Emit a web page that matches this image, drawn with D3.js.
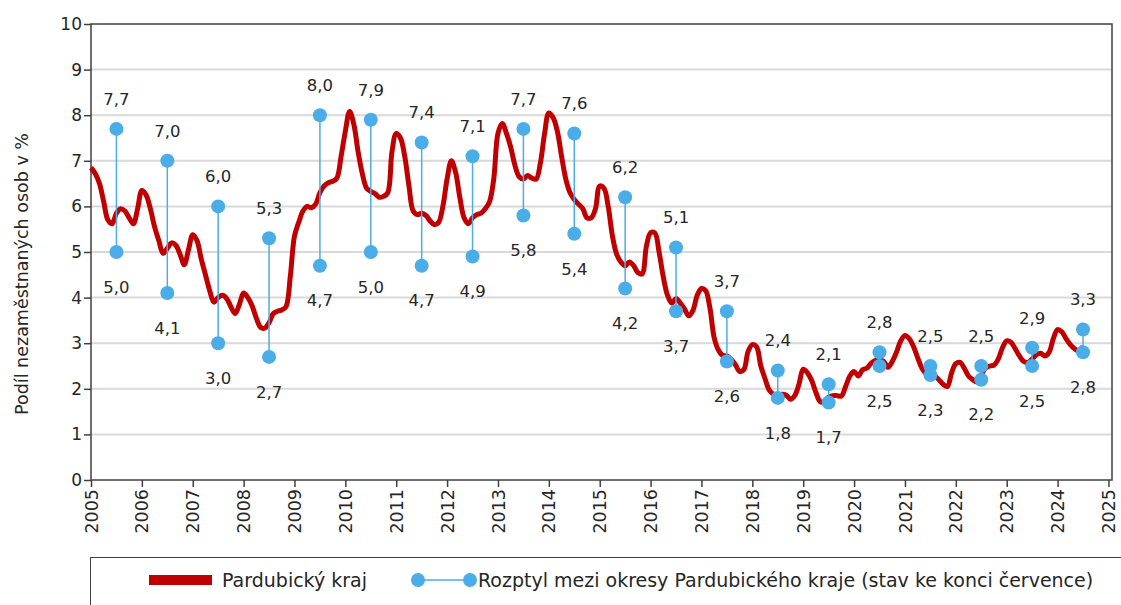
<!DOCTYPE html>
<html>
<head>
<meta charset="utf-8">
<script src="https://cdn.jsdelivr.net/npm/d3@7"></script>
<style>
  body { margin: 0; background: #fff; }
  text { font-family: "DejaVu Sans", sans-serif; fill: #262626; }
</style>
</head>
<body>
<div id="chart"></div>
<script>

// monthly share of unemployed, Pardubicky kraj, Jan 2005 - Jul 2024
const firstYear = 2005;
const pardubice = [
  6.85, 6.72, 6.5, 6.1, 5.7, 5.62, 5.85, 5.95, 5.9, 5.75, 5.62, 5.95,   // 2005
  6.35, 6.25, 5.95, 5.55, 5.25, 4.97, 5.08, 5.2, 5.15, 4.95, 4.72, 5.05, // 2006
  5.38, 5.25, 4.85, 4.5, 4.15, 3.9, 4.0, 4.05, 3.98, 3.8, 3.65, 3.85,    // 2007
  4.1, 4.0, 3.82, 3.55, 3.35, 3.33, 3.45, 3.65, 3.7, 3.73, 3.8, 4.45,    // 2008
  5.35, 5.65, 5.9, 6.0, 5.97, 6.05, 6.3, 6.45, 6.52, 6.55, 6.62, 7.1,    // 2009
  7.65, 8.08, 7.8, 7.2, 6.72, 6.4, 6.33, 6.28, 6.2, 6.22, 6.3, 7.2,      // 2010
  7.6, 7.5, 7.1, 6.45, 5.9, 5.82, 5.85, 5.8, 5.68, 5.6, 5.65, 6.0,       // 2011
  6.6, 7.0, 6.75, 6.2, 5.75, 5.62, 5.75, 5.82, 5.85, 5.95, 6.1, 6.6,     // 2012
  7.6, 7.82, 7.6, 7.3, 6.9, 6.65, 6.6, 6.68, 6.62, 6.6, 6.95, 7.6,      // 2013
  8.05, 7.95, 7.65, 7.1, 6.6, 6.3, 6.15, 6.05, 5.95, 5.75, 5.75, 5.95,   // 2014
  6.45, 6.4, 6.0, 5.35, 4.95, 4.78, 4.7, 4.78, 4.7, 4.55, 4.52, 5.12,    // 2015
  5.42, 5.42, 5.0, 4.45, 4.05, 3.88, 3.98, 3.88, 3.75, 3.6, 3.72, 4.05,  // 2016
  4.2, 4.15, 3.77, 3.12, 2.85, 2.73, 2.72, 2.65, 2.53, 2.38, 2.42, 2.82, // 2017
  2.97, 2.92, 2.5, 2.22, 1.97, 1.88, 1.85, 1.88, 1.86, 1.77, 1.85, 2.1,  // 2018
  2.43, 2.35, 2.18, 1.92, 1.72, 1.72, 1.82, 1.85, 1.85, 1.84, 2.05, 2.28, // 2019
  2.38, 2.28, 2.42, 2.45, 2.56, 2.62, 2.64, 2.6, 2.47, 2.6, 2.8, 3.05,   // 2020
  3.17, 3.1, 2.93, 2.68, 2.45, 2.33, 2.3, 2.28, 2.2, 2.1, 2.05, 2.35,    // 2021
  2.55, 2.58, 2.45, 2.28, 2.2, 2.15, 2.3, 2.45, 2.5, 2.52, 2.65, 2.9,    // 2022
  3.05, 3.02, 2.88, 2.72, 2.6, 2.58, 2.65, 2.75, 2.78, 2.72, 2.8, 3.1,   // 2023
  3.3, 3.25, 3.1, 2.97, 2.88, 2.83, 2.93                                 // 2024
];

// spread between districts, end of July
const rangeYears = [2005, 2006, 2007, 2008, 2009, 2010, 2011, 2012, 2013, 2014,
                    2015, 2016, 2017, 2018, 2019, 2020, 2021, 2022, 2023, 2024];
const rangeMax = [7.7, 7.0, 6.0, 5.3, 8.0, 7.9, 7.4, 7.1, 7.7, 7.6,
                  6.2, 5.1, 3.7, 2.4, 2.1, 2.8, 2.5, 2.5, 2.9, 3.3];
const rangeMin = [5.0, 4.1, 3.0, 2.7, 4.7, 5.0, 4.7, 4.9, 5.8, 5.4,
                  4.2, 3.7, 2.6, 1.8, 1.7, 2.5, 2.3, 2.2, 2.5, 2.8];

const xTicks = [2005, 2006, 2007, 2008, 2009, 2010, 2011, 2012, 2013, 2014, 2015,
                2016, 2017, 2018, 2019, 2020, 2021, 2022, 2023, 2024, 2025];
const yTicks = [0, 1, 2, 3, 4, 5, 6, 7, 8, 9, 10];

const yTitle = "Podíl nezaměstnaných osob v %";
const legendLine = "Pardubický kraj";
const legendRange = "Rozptyl mezi okresy Pardubického kraje (stav ke konci července)";

const width = 1121, height = 605;
const plot = { left: 91, right: 1112, top: 24, bottom: 480 };

const red = "#c00000", blue = "#4bade8", dark = "#404040";
const fmt = d => d3.format(".1f")(d).replace(".", ",");

const svg = d3.select("#chart")
  .append("svg")
    .attr("width", width)
    .attr("height", height);

const xScale = d3.scaleLinear()
  .domain([2005, 2025.07])
  .range([plot.left, plot.right]);

const yScale = d3.scaleLinear()
  .domain([0, 10])
  .range([plot.bottom, plot.top]);

// gridlines
svg.append("g")
  .selectAll("line")
  .data(yTicks.filter(d => d > 0 && d < 10))
  .enter()
  .append("line")
    .attr("x1", plot.left)
    .attr("x2", plot.right)
    .attr("y1", d => yScale(d))
    .attr("y2", d => yScale(d))
    .attr("stroke", "#d9d9d9")
    .attr("stroke-width", 2);

// axes
const yAxis = svg.append("g")
  .attr("transform", "translate(" + plot.left + ",0)")
  .call(d3.axisLeft(yScale).tickValues(yTicks).tickSize(7).tickFormat(d => d));
yAxis.select(".domain").remove();
yAxis.selectAll("line").attr("stroke", dark).attr("stroke-width", 1.5);
yAxis.selectAll("text")
  .attr("x", -9)
  .style("font-size", "17px");

const xAxis = svg.append("g")
  .attr("transform", "translate(0," + plot.bottom + ")")
  .call(d3.axisBottom(xScale).tickValues(xTicks).tickSize(7).tickFormat(d3.format("d")));
xAxis.select(".domain").remove();
xAxis.selectAll("line").attr("stroke", dark).attr("stroke-width", 1.5);
xAxis.selectAll("text")
  .attr("transform", "rotate(-90)")
  .attr("x", -9)
  .attr("y", 0)
  .attr("dy", "0.35em")
  .style("text-anchor", "end")
  .style("font-size", "17.5px");

// plot frame
svg.append("rect")
  .attr("x", plot.left)
  .attr("y", plot.top)
  .attr("width", plot.right - plot.left)
  .attr("height", plot.bottom - plot.top)
  .attr("fill", "none")
  .attr("stroke", dark)
  .attr("stroke-width", 1.5);

svg.append("text")
  .attr("transform", "translate(22," + 274 + ") rotate(-90)")
  .attr("text-anchor", "middle")
  .attr("dy", "0.35em")
  .style("font-size", "17.5px")
  .text(yTitle);

// red monthly line
const line = d3.line()
  .x((d, i) => xScale(firstYear + i / 12))
  .y(d => yScale(d))
  .curve(d3.curveCatmullRom.alpha(0.5));

svg.append("path")
  .datum(pardubice)
  .attr("d", line)
  .attr("fill", "none")
  .attr("stroke", red)
  .attr("stroke-width", 5)
  .attr("stroke-linejoin", "round");

// district range bars (July)
const ranges = rangeYears.map((y, i) => ({ year: y, max: rangeMax[i], min: rangeMin[i] }));
const rx = d => xScale(d.year + 0.5);

svg.selectAll("rangeline")
  .data(ranges)
  .enter()
  .append("line")
    .attr("x1", rx)
    .attr("x2", rx)
    .attr("y1", d => yScale(d.max))
    .attr("y2", d => yScale(d.min))
    .attr("stroke", blue)
    .attr("stroke-width", 1.5);

["max", "min"].forEach(k => {
  svg.selectAll("dot" + k)
    .data(ranges)
    .enter()
    .append("circle")
      .attr("cx", rx)
      .attr("cy", d => yScale(d[k]))
      .attr("r", 7)
      .attr("fill", blue);
});

svg.selectAll("maxlabel")
  .data(ranges)
  .enter()
  .append("text")
    .attr("x", rx)
    .attr("y", d => yScale(d.max) - 30)
    .attr("dy", "0.35em")
    .attr("text-anchor", "middle")
    .style("font-size", "16.5px")
    .text(d => fmt(d.max));

svg.selectAll("minlabel")
  .data(ranges)
  .enter()
  .append("text")
    .attr("x", rx)
    .attr("y", d => yScale(d.min) + 35)
    .attr("dy", "0.35em")
    .attr("text-anchor", "middle")
    .style("font-size", "16.5px")
    .text(d => fmt(d.min));

// legend
const legend = svg.append("g");
legend.append("rect")
  .attr("x", 90.5)
  .attr("y", 557.5)
  .attr("width", 1040)
  .attr("height", 70)
  .attr("fill", "#fff")
  .attr("stroke", dark)
  .attr("stroke-width", 1);

legend.append("rect")
  .attr("x", 149)
  .attr("y", 575)
  .attr("width", 63)
  .attr("height", 10)
  .attr("fill", red);

legend.append("text")
  .attr("x", 222)
  .attr("y", 580)
  .attr("dy", "0.35em")
  .style("font-size", "19px")
  .text(legendLine);

legend.append("line")
  .attr("x1", 418).attr("x2", 470)
  .attr("y1", 580).attr("y2", 580)
  .attr("stroke", blue)
  .attr("stroke-width", 1.5);
legend.selectAll("legdot")
  .data([418, 470])
  .enter()
  .append("circle")
    .attr("cx", d => d)
    .attr("cy", 580)
    .attr("r", 7)
    .attr("fill", blue);

legend.append("text")
  .attr("x", 478)
  .attr("y", 580)
  .attr("dy", "0.35em")
  .style("font-size", "19px")
  .text(legendRange);

</script>
</body>
</html>
